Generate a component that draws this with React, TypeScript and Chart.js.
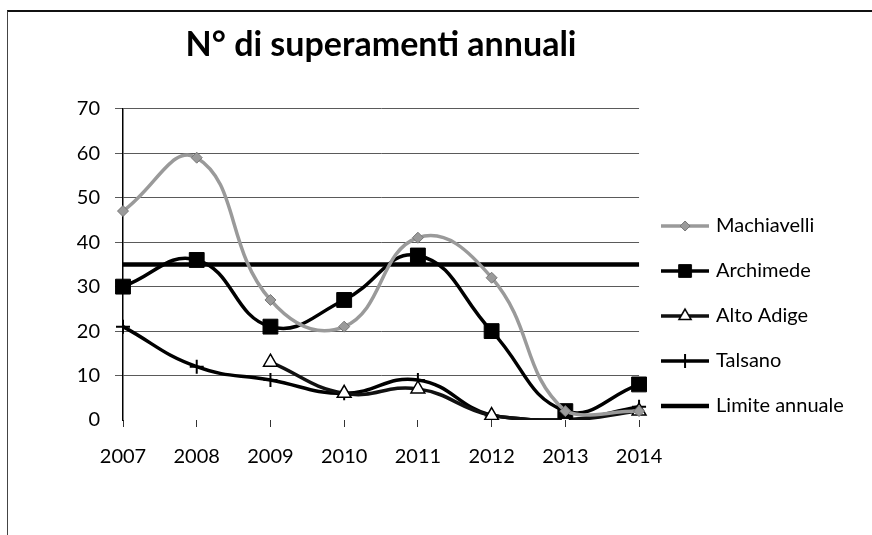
import React, { useEffect, useRef } from 'react';
import { Chart, registerables } from 'chart.js';
import { drawPoint } from 'chart.js/helpers';

Chart.register(...registerables);

const years = ['2007', '2008', '2009', '2010', '2011', '2012', '2013', '2014'];
const machiavelli = [47, 59, 27, 21, 41, 32, 2, 2];
const archimede = [30, 36, 21, 27, 37, 20, 2, 8];
const altoAdige = [null, null, 13, 6, 7, 1, 0, 2];
const talsano = [21, 12, 9, 6, 9, 1, 0, 3];
const limiteAnnuale = [35, 35, 35, 35, 35, 35, 35, 35];
const seriesNames = ['Machiavelli', 'Archimede', 'Alto Adige', 'Talsano', 'Limite annuale'];
const yMin = 0;
const yMax = 70;
const yStep = 10;
const chartTitle = 'N° di superamenti annuali';

const FONT = 'Lato, "Open Sans", sans-serif';
const LEGEND_FONT_SIZE = 20;
const LEGEND_PAD = 25;
const LEGEND_BOX = 42;
const PLOT_RIGHT = 638;

type IconSpec = {
  color: string;
  lineWidth: number;
  style?: string;
  radius?: number;
  fill?: string;
  border?: string;
  borderWidth?: number;
};

function makeIcon(s: IconSpec): HTMLCanvasElement {
  const c = document.createElement('canvas');
  c.width = 48;
  c.height = 22;
  const ctx = c.getContext('2d')!;
  ctx.strokeStyle = s.color;
  ctx.lineWidth = s.lineWidth;
  ctx.beginPath();
  ctx.moveTo(0, 11);
  ctx.lineTo(48, 11);
  ctx.stroke();
  if (s.style) {
    ctx.fillStyle = s.fill || s.color;
    ctx.strokeStyle = s.border || s.color;
    ctx.lineWidth = s.borderWidth || 1;
    drawPoint(ctx, { pointStyle: s.style, radius: s.radius || 5, borderWidth: s.borderWidth || 1, rotation: 0 } as any, 24, 11);
  }
  return c;
}

export default function App() {
  const ref = useRef<HTMLCanvasElement | null>(null);

  useEffect(() => {
    if (!ref.current) return;
    const icons = [
      makeIcon({ color: '#9a9a9a', lineWidth: 3.5, style: 'rectRot', radius: 5, fill: '#9a9a9a', border: '#777', borderWidth: 1 }),
      makeIcon({ color: '#000', lineWidth: 3.5, style: 'rect', radius: 9, fill: '#000', border: '#000', borderWidth: 1 }),
      makeIcon({ color: '#111', lineWidth: 3.5, style: 'triangle', radius: 7, fill: '#fff', border: '#000', borderWidth: 1.5 }),
      makeIcon({ color: '#000', lineWidth: 3.5, style: 'cross', radius: 7, fill: '#000', border: '#000', borderWidth: 2 }),
      makeIcon({ color: '#000', lineWidth: 4.5 }),
    ];

    // measure legend text so the plot area ends where the reference's does
    const mctx = document.createElement('canvas').getContext('2d')!;
    mctx.font = `${LEGEND_FONT_SIZE}px ${FONT}`;
    let maxW = 0;
    for (const n of seriesNames) maxW = Math.max(maxW, mctx.measureText(n).width);
    const legendW = LEGEND_PAD + LEGEND_BOX + LEGEND_FONT_SIZE / 2 + maxW + 7;
    const padRight = Math.max(0, 872 - PLOT_RIGHT - legendW);

    const chart = new Chart(ref.current, {
      type: 'line',
      data: {
        labels: years,
        datasets: [
          {
            label: seriesNames[0],
            data: machiavelli,
            borderColor: '#9a9a9a',
            backgroundColor: '#9a9a9a',
            borderWidth: 3.5,
            tension: 0.45,
            pointStyle: 'rectRot',
            pointRadius: 5.5,
            pointBorderColor: '#777',
            pointBorderWidth: 1,
          },
          {
            label: seriesNames[1],
            data: archimede,
            borderColor: '#000',
            backgroundColor: '#000',
            borderWidth: 3.5,
            tension: 0.45,
            pointStyle: 'rect',
            pointRadius: 10.5,
            pointBorderColor: '#000',
            pointBorderWidth: 1,
          },
          {
            label: seriesNames[2],
            data: altoAdige,
            borderColor: '#111',
            backgroundColor: '#fff',
            borderWidth: 3.5,
            tension: 0.45,
            pointStyle: 'triangle',
            pointRadius: 8,
            pointBorderColor: '#000',
            pointBorderWidth: 1.5,
          },
          {
            label: seriesNames[3],
            data: talsano,
            borderColor: '#000',
            backgroundColor: '#000',
            borderWidth: 3.5,
            tension: 0.45,
            pointStyle: 'cross',
            pointRadius: 7,
            pointBorderColor: '#000',
            pointBorderWidth: 2,
          },
          {
            label: seriesNames[4],
            data: limiteAnnuale,
            borderColor: '#000',
            backgroundColor: '#000',
            borderWidth: 4.5,
            tension: 0,
            pointRadius: 0,
          },
        ],
      },
      options: {
        animation: false,
        responsive: false,
        events: [],
        layout: { padding: { left: 7, top: 0, right: padRight, bottom: 48 } },
        scales: {
          x: {
            type: 'category',
            offset: false,
            grid: { drawOnChartArea: false, drawTicks: true, tickLength: 7, tickColor: '#333', lineWidth: 1 },
            border: { display: false },
            ticks: { color: '#000', font: { family: FONT, size: 20 }, padding: 18, maxRotation: 0, autoSkip: false },
          },
          y: {
            min: yMin,
            max: yMax,
            grid: {
              color: (c: any) => (c.tick && c.tick.value === 0 ? 'rgba(0,0,0,0)' : '#5a5a5a'),
              tickColor: (c: any) => (c.tick && c.tick.value === 0 ? 'rgba(0,0,0,0)' : '#5a5a5a'),
              lineWidth: 1,
              tickLength: 8,
            },
            border: { display: true, color: '#000', width: 1.5 },
            ticks: { stepSize: yStep, color: '#000', font: { family: FONT, size: 20 }, padding: 15 },
            afterFit: (s: any) => { s.width = 116; },
          },
        },
        plugins: {
          title: {
            display: true,
            text: chartTitle,
            fullSize: false,
            color: '#000',
            font: { family: FONT, size: 34, weight: 'bold' },
            padding: { top: 25, bottom: 43 },
          },
          legend: {
            display: true,
            position: 'right',
            align: 'start',
            title: {
              display: true,
              text: ' ',
              font: { family: FONT, size: 10 },
              padding: { top: 179, bottom: 0 },
            },
            labels: {
              usePointStyle: true,
              pointStyleWidth: LEGEND_BOX,
              padding: LEGEND_PAD,
              color: '#000',
              font: { family: FONT, size: LEGEND_FONT_SIZE },
              generateLabels: (ch: any) =>
                (Chart.defaults.plugins.legend.labels.generateLabels as any)(ch).map((l: any, i: number) => ({
                  ...l,
                  pointStyle: icons[i],
                  fontColor: '#000',
                })),
            },
          },
          tooltip: { enabled: false },
        },
      } as any,
    });
    return () => chart.destroy();
  }, []);

  return (
    <div style={{ position: 'absolute', left: 0, top: 0, width: 872, height: 535, background: '#fff' }}>
      <canvas ref={ref} width={872} height={535} style={{ position: 'absolute', left: 0, top: 0 }} />
      <div
        style={{
          position: 'absolute',
          left: 7,
          top: 10,
          width: 865,
          height: 525,
          borderTop: '2px solid #111',
          borderLeft: '1px solid #444',
          boxSizing: 'border-box',
          pointerEvents: 'none',
        }}
      />
    </div>
  );
}
